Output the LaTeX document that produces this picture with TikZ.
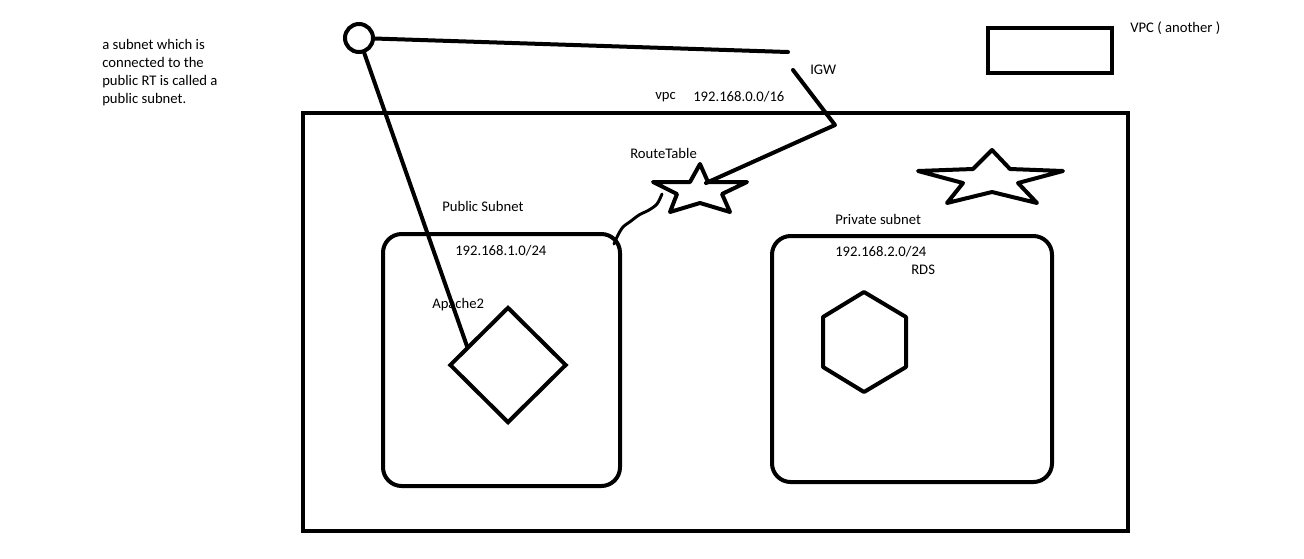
\documentclass[tikz,border=0pt]{standalone}
\usepackage{fontspec}
\setmainfont{Carlito}
\usetikzlibrary{shapes.geometric, positioning, calc}

\begin{document}
\begin{tikzpicture}[
        x=0.75pt, y=-0.75pt,
        pen/.style={line width=3pt, line join=round, line cap=round},
        note/.style={font=\fontsize{11}{13.5}\selectfont, inner sep=0pt, anchor=west, align=left},
        box/.style={draw, line width=3pt, anchor=north west, inner sep=0pt, outer sep=0pt},
        subnet/.style={box, rounded corners=14pt}
    ]
        \useasboundingbox (0,0) rectangle (1304,558);

        % boxes
        \node[box, minimum width=618.75pt, minimum height=313.5pt] (vpc) at (303,113) {};
        \node[box, minimum width=93pt, minimum height=33.75pt] (othervpc) at (988,28) {};
        \node[subnet, minimum width=177.75pt, minimum height=189pt] (public) at (383,234) {};
        \node[subnet, minimum width=210pt, minimum height=184.5pt] (private) at (772,236) {};

        % user, apache and rds
        \node[draw, circle, line width=3pt, minimum size=21pt, inner sep=0pt] (user) at (359,38) {};
        \node[draw, diamond, line width=3pt, minimum width=87.75pt, minimum height=87pt, inner sep=0pt] (apache) at (508,365) {};
        \draw[pen] (864,292) -- (906,317) -- (906,367) -- (864,392) -- (823,367) -- (823,317) -- cycle;

        % stars
        \draw[pen] (700,164) -- (708,182) -- (747,182) -- (722,194) -- (730,212) -- (700,203)
            -- (670,212) -- (677,194) -- (653,182) -- (690,182) -- cycle;
        \draw[pen] (992,150) -- (1010,169) -- (1063,171) -- (1018,183) -- (1037,203) -- (992,192)
            -- (947,203) -- (963,183) -- (918,171) -- (973,169) -- cycle;

        \coordinate (igwend) at (788,52);
        \coordinate (igwtop) at (793,70);
        \coordinate (igwbend) at (835,125);
        \coordinate (rt) at (706,183);
        \coordinate (rtfoot) at (662,194);
        \coordinate (corner) at (614,244);
        \coordinate (hit) at ($(apache.north)!0.68!(apache.west)$);

        % connectors
        \draw[pen] (user) -- (igwend);
        \draw[pen] (user) -- (hit);
        \draw[pen] (igwtop) -- (igwbend) -- (rt);
        \draw[line width=2.2pt, line cap=round] plot[smooth] coordinates {(rtfoot) (657,204) (649,210) (639,215) (631,221) (623,227) (618,235) (corner)};

        % labels
        \node[note] (rule) at (102,73) {a subnet which is\\connected to the\\public RT is called a\\public subnet.};
        \node[note] (vpcname) at (655,97) {vpc};
        \node[note] (vpccidr) at (693,97) {192.168.0.0/16};
        \node[note] (igw) at (810,70) {IGW};
        \node[note] (othername) at (1130,28) {VPC ( another )};
        \node[note] (rtname) at (630,153) {RouteTable};
        \node[note] (pubname) at (442,206) {Public Subnet};
        \node[note] (pubcidr) at (455,251) {192.168.1.0/24};
        \node[note] (apname) at (432,305) {Apache2};
        \node[note] (privname) at (835,219) {Private subnet};
        \node[note] (privcidr) at (835,252) {192.168.2.0/24};
        \node[note] (rdsname) at (911,270) {RDS};
    \end{tikzpicture}
\end{document}
